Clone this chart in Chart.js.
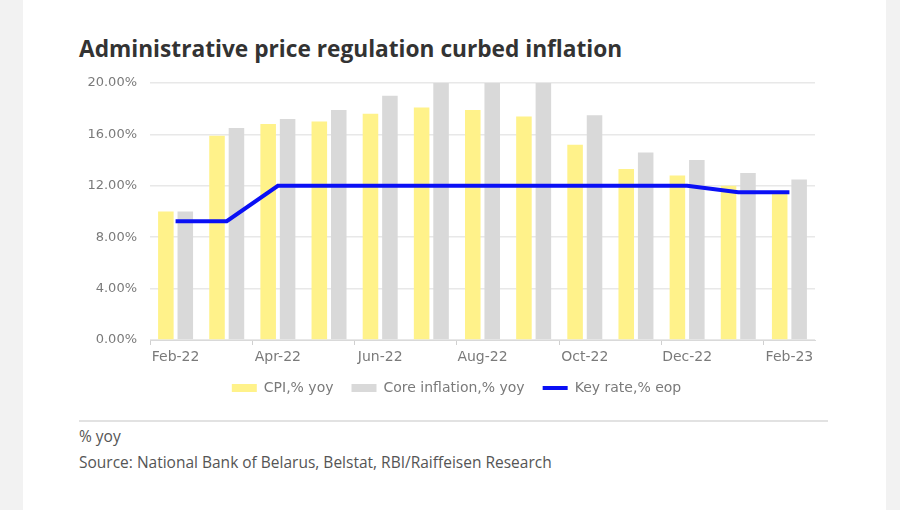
<!DOCTYPE html>
<html>
<head>
<meta charset="utf-8">
<script src="https://cdn.jsdelivr.net/npm/chart.js@4.4.0/dist/chart.umd.min.js"></script>
<style>
  html, body { margin: 0; padding: 0; width: 900px; height: 510px; background: #f2f2f2; overflow: hidden; }
  #card { position: absolute; left: 23px; top: 0; width: 863px; height: 510px; background: #ffffff; }
  #title { position: absolute; left: 79px; top: 33px; font-family: "Open Sans", sans-serif; font-weight: 700; font-size: 22.7px; color: #333333; white-space: nowrap; }
  #wrap { position: absolute; left: 0; top: 0; width: 900px; height: 420px; }
  #rule { position: absolute; left: 79px; top: 420px; width: 749px; height: 2px; background: #e2e2e2; }
  .note { position: absolute; left: 79px; font-family: "Open Sans", sans-serif; font-size: 15.5px; color: #555555; white-space: nowrap; }
</style>
</head>
<body>
<div id="card"></div>
<div id="title">Administrative price regulation curbed inflation</div>
<div id="wrap"><canvas id="c"></canvas></div>
<div id="rule"></div>
<div class="note" style="top:425px;">% yoy</div>
<div class="note" style="top:451px;">Source: National Bank of Belarus, Belstat, RBI/Raiffeisen Research</div>
<script>
const categories = ["Feb-22","Mar-22","Apr-22","May-22","Jun-22","Jul-22","Aug-22","Sep-22","Oct-22","Nov-22","Dec-22","Jan-23","Feb-23"];
const cpiValues = [10.0, 15.9, 16.8, 17.0, 17.6, 18.1, 17.9, 17.4, 15.2, 13.3, 12.8, 12.0, 11.4];
const coreValues = [10.0, 16.5, 17.2, 17.9, 19.0, 20.0, 20.0, 20.0, 17.5, 14.6, 14.0, 13.0, 12.5];
const keyRateValues = [9.25, 9.25, 12.0, 12.0, 12.0, 12.0, 12.0, 12.0, 12.0, 12.0, 12.0, 11.5, 11.5];
const yTicks = [0, 4, 8, 12, 16, 20];
const seriesNames = ["CPI,% yoy", "Core inflation,% yoy", "Key rate,% eop"];

const fam = "'DejaVu Sans', sans-serif";

const legendShift = {
  id: 'legendShift',
  afterLayout(chart) {
    if (chart.legend) {
      chart.legend.left += 9; chart.legend.right += 9;
      chart.legend.top -= 7; chart.legend.bottom -= 7;
    }
  }
};

new Chart(document.getElementById('c'), {
  data: {
    labels: categories,
    datasets: [
      { type: 'line', label: seriesNames[2], data: keyRateValues, borderColor: '#0a10f5', backgroundColor: '#0a10f5',
        borderWidth: 4, pointRadius: 0, tension: 0, order: 0, pointStyle: 'line' },
      { type: 'bar', label: seriesNames[0], data: cpiValues, backgroundColor: '#fff28a', borderWidth: 0,
        categoryPercentage: 0.76, barPercentage: 0.8, order: 1, pointStyle: 'rect' },
      { type: 'bar', label: seriesNames[1], data: coreValues, backgroundColor: '#d9d9d9', borderWidth: 0,
        categoryPercentage: 0.76, barPercentage: 0.8, order: 1, pointStyle: 'rect' }
    ]
  },
  plugins: [legendShift],
  options: {
    responsive: true,
    maintainAspectRatio: false,
    animation: false,
    layout: { padding: { left: 80, right: 85, top: 83, bottom: 8 } },
    plugins: {
      title: { display: false },
      tooltip: { enabled: false },
      legend: {
        position: 'bottom',
        labels: {
          usePointStyle: true,
          pointStyleWidth: 25,
          boxHeight: 8,
          padding: 18,
          color: '#7a7a7a',
          font: { family: fam, size: 14 },
          sort: (a, b) => {
            const ord = [1, 2, 0];
            return ord.indexOf(a.datasetIndex) - ord.indexOf(b.datasetIndex);
          }
        }
      }
    },
    scales: {
      x: {
        grid: {
          offset: true,
          drawOnChartArea: false,
          drawTicks: true,
          tickLength: 5,
          tickColor: (ctx) => (ctx.index % 2 === 0 && ctx.index < categories.length) ? '#d0d0d0' : 'rgba(0,0,0,0)',
          lineWidth: 1
        },
        border: { display: true, color: '#d9d9d9', width: 1 },
        ticks: {
          autoSkip: false,
          maxRotation: 0,
          padding: 4,
          color: '#7a7a7a',
          font: { family: fam, size: 14 },
          callback: function (value, index) { return index % 2 === 0 ? categories[index] : ''; }
        },
        afterFit: (scale) => { scale.height = 30; }
      },
      y: {
        min: 0,
        max: 20,
        afterBuildTicks: (scale) => { scale.ticks = yTicks.map(v => ({ value: v })); },
        grid: { color: '#e8e8e8', lineWidth: 1.5, drawTicks: false },
        border: { display: false },
        ticks: {
          padding: 13,
          color: '#7a7a7a',
          font: { family: fam, size: 13 },
          callback: (v) => v.toFixed(2) + '%'
        },
        afterFit: (scale) => { scale.width = 70; }
      }
    }
  }
});
</script>
</body>
</html>
